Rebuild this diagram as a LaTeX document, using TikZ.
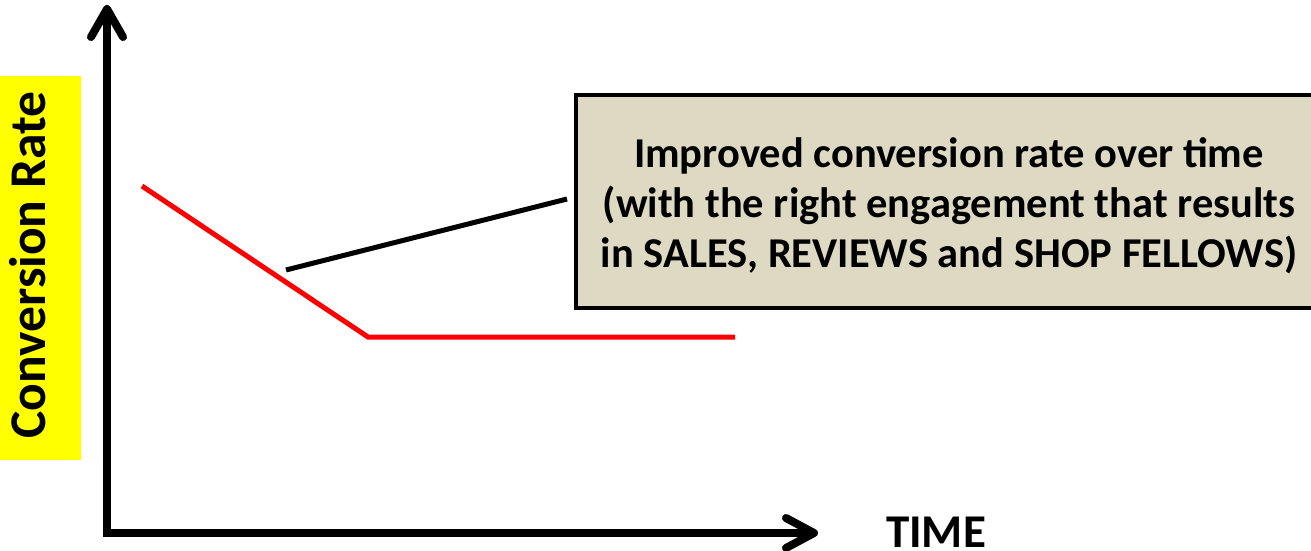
\documentclass[tikz,border=0pt]{standalone}
\usepackage{fontspec}
\setmainfont{Carlito}
\usetikzlibrary{arrows.meta}
\definecolor{boxtan}{HTML}{DDD9C3}
\definecolor{pureyellow}{HTML}{FFFF00}
\definecolor{purered}{HTML}{FF0000}
\begin{document}
\begin{tikzpicture}[x=1pt,y=-1pt,
  axisline/.style={line width=8pt, line join=miter,
    {Straight Barb[length=28pt,width=32pt,round]}-{Straight Barb[length=28pt,width=30pt,round]}},
  trend/.style={line width=5pt, purered},
  pointer/.style={line width=5pt, black},
  callout/.style={draw=black, line width=4.5pt, fill=boxtan, inner sep=0pt,
    minimum width=744pt, minimum height=213pt},
  callouttext/.style={inner sep=0pt, align=center,
    font=\bfseries\fontsize{42.5}{50}\selectfont},
  ybg/.style={fill=pureyellow, draw=none, minimum width=81pt, minimum height=384pt, inner sep=0pt},
  ylab/.style={rotate=90, inner sep=0pt, font=\bfseries\fontsize{51.5}{60}\selectfont},
  xlab/.style={inner sep=0pt, font=\bfseries\fontsize{47}{56}\selectfont}]
\clip (0,0) rectangle (1311,551);
\fill[white] (0,0) rectangle (1311,551);
% y-axis label
\node[ybg] (ybox) at (40.5,268) {};
\node[ylab] (ylabel) at (27.5,265) {Conversion Rate};
% axes
\coordinate (ytop) at (107,5);
\coordinate (origin) at (107,533);
\coordinate (xend) at (818,533);
\draw[axisline] (ytop) -- (origin) -- (xend);
\node[xlab] (time) at (936,532) {TIME};
% trend line
\coordinate (r1) at (142,186);
\coordinate (r2) at (368,337);
\coordinate (r3) at (735,337);
\draw[trend] (r1) -- (r2) -- (r3);
% callout
\node[callout] (note) at (948,201.5) {};
\node[callouttext] (notetext) at (949,206) {Improved conversion rate over time\\(with the right engagement that results\\in SALES, REVIEWS and SHOP FELLOWS)};
\coordinate (p1) at (286,270);
\coordinate (p2) at (567,199);
\draw[pointer] (p1) -- (p2);
\end{tikzpicture}
\end{document}
